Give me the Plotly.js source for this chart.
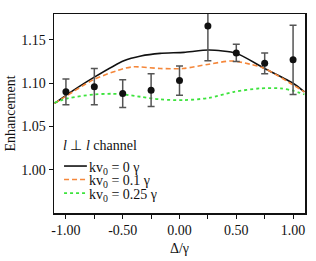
<!DOCTYPE html>
<html><head><meta charset="utf-8">
<script src="https://cdn.plot.ly/plotly-3.0.1.min.js"></script>
<style>html,body{margin:0;padding:0;background:#fff}#c{width:316px;height:261px}</style>
</head><body><div id="c"></div>
<script>
// Data points with error bars
const ptX = [-1.0, -0.75, -0.5, -0.25, 0.0, 0.25, 0.5, 0.75, 1.0];
const ptY = [1.090, 1.096, 1.088, 1.092, 1.103, 1.166, 1.135, 1.123, 1.127];
const ptErr = [0.015, 0.021, 0.016, 0.019, 0.017, 0.040, 0.010, 0.012, 0.040];

// kv0 = 0 gamma (solid black)
const k0X = [-1.1, -1.0, -0.75, -0.49, -0.34, -0.17, 0.04, 0.26, 0.5, 0.75, 1.0, 1.1];
const k0Y = [1.0767, 1.086, 1.107, 1.126, 1.1315, 1.1345, 1.1357, 1.1384, 1.1346, 1.117, 1.100, 1.090];
// kv0 = 0.1 gamma (orange dashed)
const k1X = [-1.1, -1.0, -0.75, -0.49, -0.4, -0.17, 0.03, 0.26, 0.46, 0.62, 0.75, 1.0, 1.1];
const k1Y = [1.0767, 1.085, 1.1045, 1.117, 1.119, 1.117, 1.117, 1.122, 1.1257, 1.122, 1.117, 1.098, 1.090];
// kv0 = 0.25 gamma (green dotted)
const k2X = [-1.1, -0.985, -0.75, -0.6, -0.49, -0.34, -0.17, 0.04, 0.26, 0.48, 0.71, 0.89, 1.0, 1.1];
const k2Y = [1.0774, 1.0825, 1.087, 1.0878, 1.087, 1.0843, 1.0813, 1.0805, 1.083, 1.090, 1.094, 1.094, 1.0913, 1.087];

const xTicks = [-1.0, -0.5, 0, 0.5, 1.0];
const xTickText = ['-1.00', '-0.50', '0.00', '0.50', '1.00'];
const yTicks = [1.00, 1.05, 1.10, 1.15];
const yTickText = ['1.00', '1.05', '1.10', '1.15'];
const names = ['kv<sub>0</sub> = 0 γ', 'kv<sub>0</sub> = 0.1 γ', 'kv<sub>0</sub> = 0.25 γ'];
const legendTitle = '<i>l</i> ⊥ <i>l</i> channel';

const FAM = '"Liberation Serif", "Times New Roman", serif';
const TXT = {family: FAM, size: 14, color: '#111'};

const styles = [
  {color: '#111', width: 1.6, shape: 'spline', smoothing: 0.6},
  {color: '#f5873a', width: 1.6, dash: '5px,3px', shape: 'spline', smoothing: 0.8},
  {color: '#3de33d', width: 1.8, dash: 'dot', shape: 'spline', smoothing: 0.8}
];
const seriesX = [k0X, k1X, k2X];
const seriesY = [k0Y, k1Y, k2Y];

const traces = seriesX.map((xs, i) => ({x: xs, y: seriesY[i], mode: 'lines', name: names[i], line: styles[i], showlegend: false}));
traces.push({x: ptX, y: ptY, mode: 'markers', showlegend: false,
   marker: {color: '#111', size: 7},
   error_y: {type: 'data', array: ptErr, visible: true, color: '#555', thickness: 1.5, width: 3.5}});

// Legend drawn in paper coordinates (inside plot area, lower-left)
const rowY = [0.236, 0.168, 0.100];
const annotations = [{xref: 'paper', yref: 'paper', x: 0.028, y: 0.338, xanchor: 'left', yanchor: 'middle',
  text: legendTitle, showarrow: false, font: TXT}];
const shapes = [];
names.forEach((n, i) => {
  annotations.push({xref: 'paper', yref: 'paper', x: 0.133, y: rowY[i] - 0.012, xanchor: 'left', yanchor: 'middle',
    text: n, showarrow: false, font: TXT});
  shapes.push({type: 'line', xref: 'paper', yref: 'paper', x0: 0.040, x1: 0.131, y0: rowY[i], y1: rowY[i],
    line: {color: styles[i].color, width: styles[i].width, dash: styles[i].dash || 'solid'}});
});

const layout = {
  width: 316, height: 261,
  margin: {l: 54, r: 11, t: 14, b: 48},
  paper_bgcolor: '#fff', plot_bgcolor: '#fff',
  font: TXT,
  showlegend: false,
  annotations: annotations,
  shapes: shapes,
  xaxis: {
    range: [-1.105, 1.105], tickvals: xTicks, ticktext: xTickText,
    ticks: 'outside', ticklen: 4, tickwidth: 1, tickcolor: '#111',
    minor: {tick0: -1, dtick: 0.25, ticks: 'outside', ticklen: 4, tickwidth: 1, tickcolor: '#111', showgrid: false},
    showline: true, linecolor: '#111', linewidth: 1.5, mirror: true,
    showgrid: false, zeroline: false,
    tickfont: TXT,
    title: {text: 'Δ/γ', font: TXT, standoff: 6}
  },
  yaxis: {
    range: [0.95, 1.18], tickvals: yTicks, ticktext: yTickText,
    ticks: 'outside', ticklen: 4, tickwidth: 1, tickcolor: '#111',
    showline: true, linecolor: '#111', linewidth: 1.5, mirror: true,
    showgrid: false, zeroline: false,
    tickfont: TXT,
    title: {text: 'Enhancement', font: TXT, standoff: 2}
  }
};

Plotly.newPlot('c', traces, layout, {displayModeBar: false, staticPlot: true});
</script>
</body></html>
